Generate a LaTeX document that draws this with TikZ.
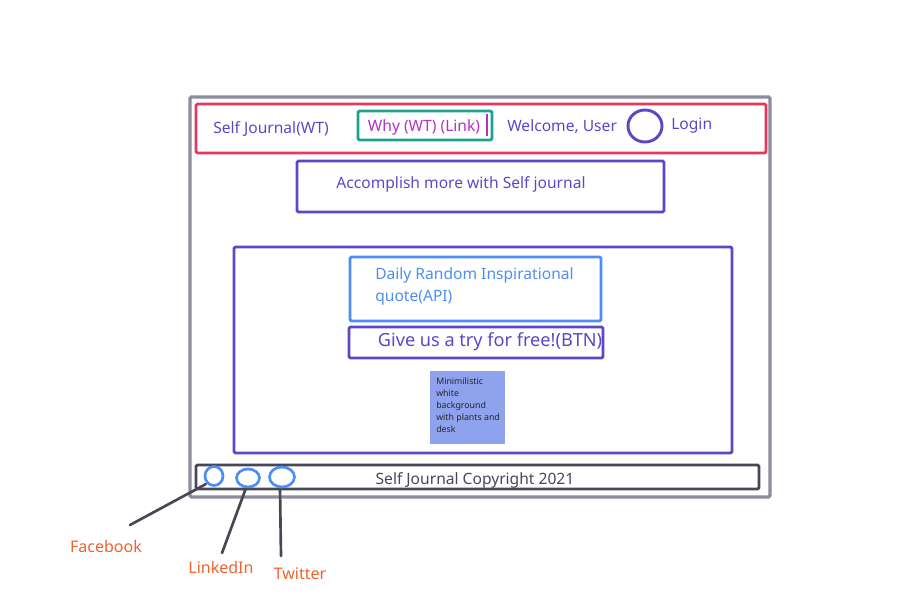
\documentclass[tikz,border=0pt]{standalone}
\usepackage{fontspec}
\setmainfont{Noto Sans}
\definecolor{cpurple}{HTML}{5A48C8}
\definecolor{cred}{HTML}{E8365D}
\definecolor{cteal}{HTML}{1AA391}
\definecolor{cmag}{HTML}{B42EC8}
\definecolor{cblue}{HTML}{4D8DF5}
\definecolor{cimg}{HTML}{8EA2EE}
\definecolor{cdark}{HTML}{474756}
\definecolor{cgray}{HTML}{8C8C9C}
\definecolor{corange}{HTML}{F0622A}
\tikzset{
  box/.style={draw, line width=2.2pt, rounded corners=1pt, inner sep=0pt},
  txt/.style={font=\fontsize{11.7}{14}\selectfont, inner sep=0pt},
  lbl/.style={font=\fontsize{12}{14}\selectfont, text=corange, inner sep=0pt},
  icon/.style={draw=cblue, line width=2pt},
  lead/.style={draw=cdark, line width=2pt, line cap=round}
}
\begin{document}
\begin{tikzpicture}[x=0.75pt,y=-0.75pt]
\useasboundingbox (0,0) rectangle (908,599);
% frame
\draw[box, draw=cgray, line width=2.4pt] (190,97) rectangle (770,497);
% header
\draw[box, draw=cred] (196,104) rectangle (766,153);
\node[txt, text=cpurple, anchor=west] (brand) at (213,129) {Self Journal(WT)};
\draw[box, draw=cteal] (358,111) rectangle (492,140);
\node[txt, text=cmag] (why) at (424,127) {Why (WT) (Link)};
\draw[cmag, line width=0.8pt] (487,114) -- (487,136);
\node[txt, text=cpurple, anchor=west] (welcome) at (507,127) {Welcome, User};
\draw[cpurple, line width=2.2pt] (645,126) ellipse (17 and 16);
\node[txt, text=cpurple, anchor=west] (login) at (671,126) {Login};
% tagline
\draw[box, draw=cpurple] (297,161) rectangle (664,212);
\node[txt, text=cpurple] (tag) at (461,184) {Accomplish more with Self journal};
% main content
\draw[box, draw=cpurple] (234,247) rectangle (732,453);
\draw[box, draw=cblue] (350,257) rectangle (601,321);
\node[txt, text=cblue, anchor=north west, align=left] (quote) at (375,267) {Daily Random Inspirational\\[3pt]quote(API)};
\draw[box, draw=cpurple] (349,327) rectangle (603,358);
\node[txt, font=\fontsize{13.6}{15}\selectfont, text=cpurple] (btn) at (490,342) {Give us a try for free!(BTN)};
\fill[cimg] (430,371) rectangle (505,444);
\node[font=\fontsize{6.6}{9}\selectfont, text=black!85, anchor=north west, align=left, inner sep=0pt] (img) at (436,378) {Minimilistic\\white\\background\\with plants and\\desk};
% footer
\draw[box, draw=cdark] (196,465) rectangle (759,489);
\node[txt, text=cdark] (copy) at (475,480) {Self Journal Copyright 2021};
\draw[icon] (214,476) ellipse (9 and 9.5);
\node[inner sep=0pt, minimum size=0pt] (fb) at (206,484) {};
\draw[icon] (248,478) ellipse (11.5 and 9);
\node[inner sep=0pt] (li) at (246,488) {};
\draw[icon] (282,477) ellipse (12.5 and 10);
\node[inner sep=0pt] (tw) at (280,489) {};
\coordinate (fbend) at (130,525);
\coordinate (liend) at (222,553);
\coordinate (twend) at (281,556);
\draw[lead] (fb) -- (fbend);
\draw[lead] (li) -- (liend);
\draw[lead] (tw) -- (twend);
\node[lbl] (fblbl) at (106,546) {Facebook};
\node[lbl] (lilbl) at (221,567) {LinkedIn};
\node[lbl] (twlbl) at (300,574) {Twitter};
\end{tikzpicture}
\end{document}
